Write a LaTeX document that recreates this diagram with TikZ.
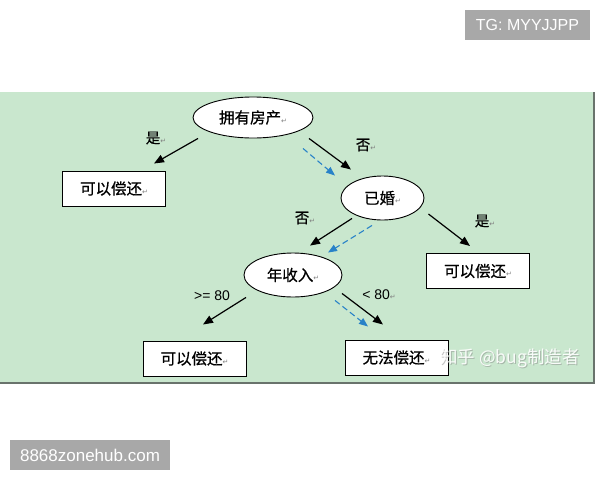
\documentclass[tikz,border=0pt]{standalone}
\usepackage{fontspec}
\setmainfont{Noto Sans CJK SC}[FakeBold=0.6]
\newfontfamily\markfont{Noto Sans CJK SC}
\newfontfamily\symfont{DejaVu Sans}
\newfontfamily\latinfont{Liberation Sans}
\usetikzlibrary{arrows.meta, calc, shapes.geometric}

\definecolor{panelgreen}{RGB}{201,231,206}
\definecolor{paneledge}{RGB}{105,115,108}
\definecolor{pathblue}{RGB}{40,130,200}
\definecolor{markgray}{RGB}{168,168,168}

\newcommand{\retmark}{{\symfont\fontsize{7}{7}\selectfont\textcolor{gray}{↵}}}

\begin{document}
\begin{tikzpicture}[
    x=1pt, y=-1pt,
    every node/.style={font=\fontsize{15.5}{18}\selectfont, inner sep=0pt},
    test/.style={ellipse, draw, fill=white, line width=0.9pt},
    leaf/.style={rectangle, draw, fill=white, line width=1pt, minimum width=103pt, minimum height=35pt},
    arrow/.style={-{Triangle[length=10pt, width=8pt]}, line width=1.2pt},
    route/.style={-{Triangle[length=9pt, width=7pt]}, line width=1.1pt, pathblue, dash pattern=on 6pt off 3.5pt},
    branch/.style={font=\fontsize{14.5}{17}\selectfont},
    stamp/.style={fill=markgray, text=white, font=\latinfont\fontsize{16}{19}\selectfont}
]
\useasboundingbox (0,0) rectangle (600,480);

% === BACKGROUND PANEL ===
\fill[panelgreen] (0,92) rectangle (594,383);
\draw[paneledge, line width=2pt] (594,92) -- (594,383) -- (0,383);

% === TEST NODES (ellipses) ===

% root test
\node[test, minimum width=120pt, minimum height=41pt] (root) at (253,117.5) {拥有房产\retmark};

% second test
\node[test, minimum width=83pt, minimum height=44pt] (married) at (382.5,198) {已婚\retmark};

% third test
\node[test, minimum width=98pt, minimum height=44pt] (income) at (293,275) {年收入\retmark};

% === LEAVES (boxes) ===
\node[leaf] (leafA) at (114,188.5) {可以偿还\retmark};
\node[leaf] (leafB) at (478,271) {可以偿还\retmark};
\node[leaf] (leafC) at (194.5,358.5) {可以偿还\retmark};
\node[leaf] (leafD) at (396.5,357.5) {无法偿还\retmark};

% === BRANCH LABELS ===
\node[branch] (yesA) at (156,138) {是\retmark};
\node[branch] (noA) at (366,145) {否\retmark};
\node[branch] (noB) at (305,218) {否\retmark};
\node[branch] (yesB) at (485,221) {是\retmark};
\node[font=\latinfont\fontsize{14}{17}\selectfont] (geLbl) at (212,296) {>= 80};
\node[font=\latinfont\fontsize{14}{17}\selectfont] (ltLbl) at (379,295) {< 80\retmark};

% === TREE EDGES ===
\draw[arrow] ([shift={(-55,0)}]root.south) -- ([shift={(-12,-7)}]leafA.north east);
\draw[arrow] ([shift={(56,0)}]root.south) -- ([shift={(-31.5,-6)}]married.north);
\draw[arrow] ([shift={(-30.5,-2)}]married.south) -- ([shift={(17,-7)}]income.north);
\draw[arrow] ([shift={(4,16)}]married.east) -- ([shift={(-8,-7)}]leafB.north);
\draw[arrow] ([shift={(-47,0)}]income.south) -- ([shift={(8.5,-16)}]leafC.north);
\draw[arrow] ([shift={(49,-4)}]income.south) -- ([shift={(-13.5,-15)}]leafD.north);

% === DECISION PATH (dashed blue) ===
\draw[route] ([shift={(50,10)}]root.south) -- ([shift={(-47.5,0)}]married.north);
\draw[route] ([shift={(-10.5,5)}]married.south) -- ([shift={(35,0)}]income.north);
\draw[route] ([shift={(42,3)}]income.south) -- ([shift={(-28.5,-13)}]leafD.north);

% === WATERMARKS ===
\node[stamp, minimum width=125pt, minimum height=30pt] (tgMark) at (527.5,25) {TG: MYYJJPP};
\node[stamp, minimum width=160pt, minimum height=30pt, font=\latinfont\fontsize{17}{20}\selectfont] (siteMark) at (90,455) {8868zonehub.com};
\node[text=gray, opacity=0.45, font=\markfont\fontsize{17.5}{20}\selectfont] (zhShadow) at (511,359) {知乎 @bug制造者};
\node[text=white, opacity=0.9, font=\markfont\fontsize{17.5}{20}\selectfont] (zhMark) at (510,358) {知乎 @bug制造者};

\end{tikzpicture}
\end{document}
